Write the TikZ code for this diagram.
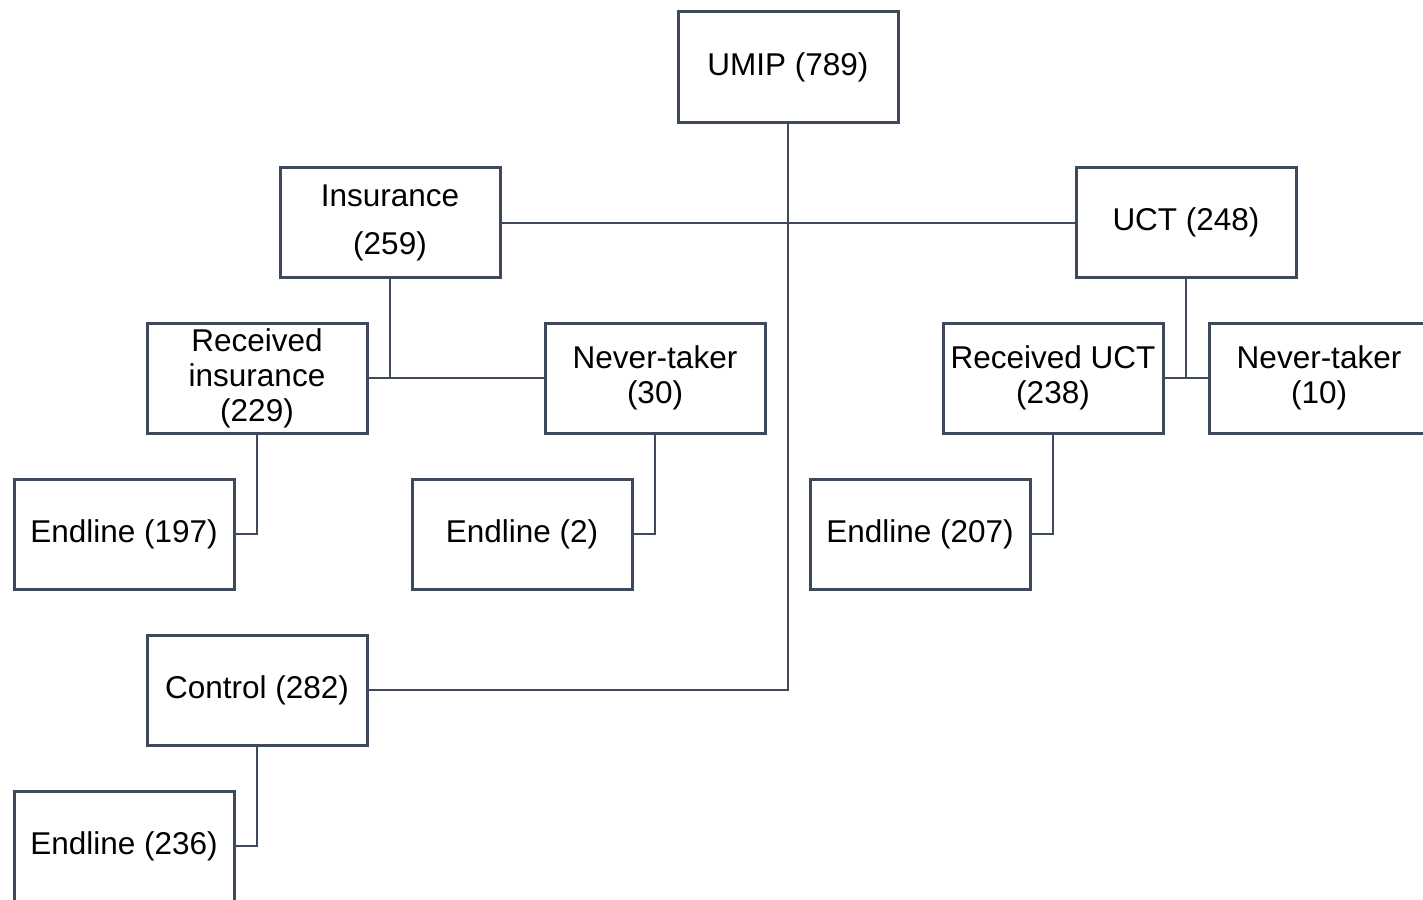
\documentclass[tikz,border=0pt]{standalone}
\usepackage{fontspec}
\setmainfont{Liberation Sans}
\definecolor{edge}{HTML}{3E4A5C}
\begin{document}
\begin{tikzpicture}[x=1pt,y=-1pt,
  box/.style={draw=edge, line width=3pt, fill=white, minimum width=220pt, minimum height=110pt,
    inner sep=0pt, align=center, font=\fontsize{31.5}{35}\selectfont, text=black},
  link/.style={draw=edge, line width=2pt}]
\useasboundingbox (0,0) rectangle (1423,899);
\clip (0,0) rectangle (1423,899);
\node[box] (umip) at (788,67) {UMIP (789)};
\node[box] (ins) at (390,222.5) {Insurance\\[13pt](259)};
\node[box] (uct) at (1186,222.5) {UCT (248)};
\node[box] (recins) at (257,378) {Received\\insurance\\(229)};
\node[box] (nt30) at (655,378) {Never-taker\\(30)};
\node[box] (recuct) at (1053,378) {Received UCT\\(238)};
\node[box] (nt10) at (1319,378) {Never-taker\\(10)};
\node[box] (e197) at (124,534) {Endline (197)};
\node[box] (e2) at (522,534) {Endline (2)};
\node[box] (e207) at (920,534) {Endline (207)};
\node[box] (ctrl) at (257,690) {Control (282)};
\node[box] (e236) at (124,846) {Endline (236)};
\draw[link] (umip.south) |- (ctrl.east);
\draw[link] (ins.east) -- (uct.west);
\draw[link] (ins.south) -- (ins.south |- recins.east);
\draw[link] (recins.east) -- (nt30.west);
\draw[link] (uct.south) -- (uct.south |- recuct.east);
\draw[link] (recuct.east) -- (nt10.west);
\draw[link] (recins.south) |- (e197.east);
\draw[link] (nt30.south) |- (e2.east);
\draw[link] (recuct.south) |- (e207.east);
\draw[link] (ctrl.south) |- (e236.east);
\end{tikzpicture}
\end{document}
